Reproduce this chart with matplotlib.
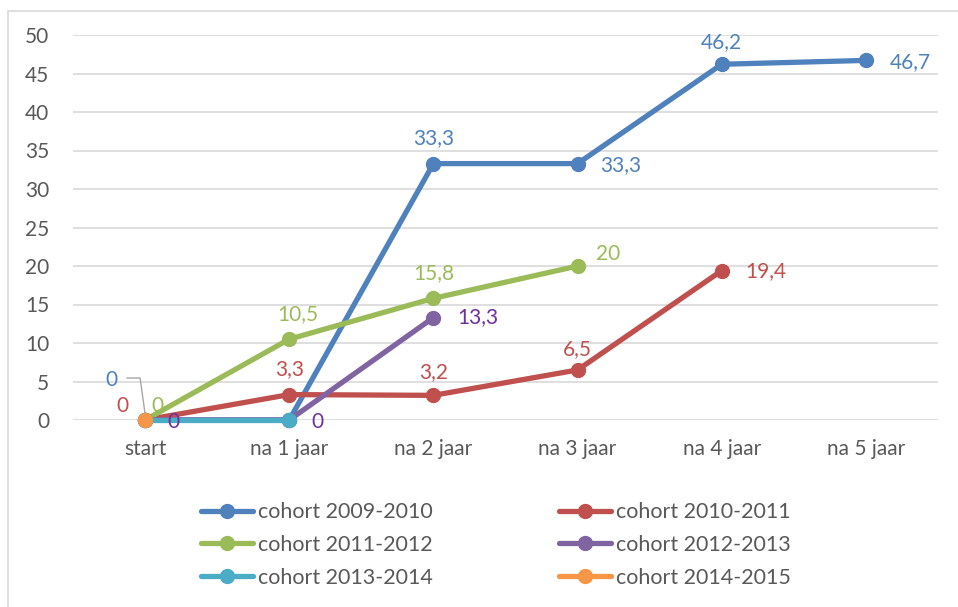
import matplotlib
matplotlib.use("Agg")
import matplotlib.pyplot as plt
import matplotlib.transforms as mtransforms
from matplotlib.patches import Rectangle

plt.rcParams['font.family'] = ['Lato', 'DejaVu Sans']

categories = ["start", "na 1 jaar", "na 2 jaar", "na 3 jaar", "na 4 jaar", "na 5 jaar"]
series_names = ["cohort 2009-2010", "cohort 2010-2011", "cohort 2011-2012",
                "cohort 2012-2013", "cohort 2013-2014", "cohort 2014-2015"]
c2009 = [0, 0, 33.3, 33.3, 46.2, 46.7]
c2010 = [0, 3.3, 3.2, 6.5, 19.4]
c2011 = [0, 10.5, 15.8, 20]
c2012 = [0, 0, 13.3]
c2013 = [0, 0]
c2014 = [0]
colors = ["#4F81BD", "#C0504D", "#9BBB59", "#8064A2", "#4BACC6", "#F79646"]
purple_label = "#7030A0"
yticks = [0, 5, 10, 15, 20, 25, 30, 35, 40, 45, 50]

FS = 15
W, H = 958, 607
fig = plt.figure(figsize=(W / 100, H / 100), dpi=100)
ax = fig.add_axes([73 / W, 1 - 420 / H, (938 - 73) / W, (420 - 35) / H])

all_series = [c2009, c2010, c2011, c2012, c2013, c2014]
handles = []
for name, vals, col in zip(series_names, all_series, colors):
    h, = ax.plot(range(len(vals)), vals, color=col, lw=3.8, marker='o', ms=10,
                 solid_capstyle='round', label=name, clip_on=False, zorder=3)
    handles.append(h)

ax.set_xlim(-0.5, len(categories) - 0.5)
ax.set_ylim(0, 50)
ax.set_xticks(range(len(categories)))
ax.set_xticklabels(categories)
ax.set_yticks(yticks)
ax.grid(axis='y', color='#D9D9D9', lw=1.2)
ax.set_axisbelow(True)
for s in ax.spines.values():
    s.set_visible(False)
ax.tick_params(axis='both', length=0, labelsize=FS, colors='#595959')
ax.tick_params(axis='y', pad=17)
ax.tick_params(axis='x', pad=14)

def lab(x, y, text, col, dx, dy, ha='center'):
    ax.annotate(text, xy=(x, y), xytext=(dx, dy), textcoords='offset points',
                ha=ha, va='center', fontsize=FS, color=col, zorder=5)

# cohort 2009-2010
lab(2, 33.3, "33,3", colors[0], 0, 18)
lab(3, 33.3, "33,3", colors[0], 16, -1, 'left')
lab(4, 46.2, "46,2", colors[0], 0, 16)
lab(5, 46.7, "46,7", colors[0], 17, -1, 'left')
lab(0, 0, "0", colors[0], -24, 29)
# cohort 2010-2011
lab(0, 0, "0", colors[1], -16.5, 10)
lab(1, 3.3, "3,3", colors[1], 0, 18)
lab(2, 3.2, "3,2", colors[1], 0, 17)
lab(3, 6.5, "6,5", colors[1], 0, 15)
lab(4, 19.4, "19,4", colors[1], 17, 0, 'left')
# cohort 2011-2012
lab(0, 0, "0", colors[2], 9, 10)
lab(1, 10.5, "10,5", colors[2], 6, 18)
lab(2, 15.8, "15,8", colors[2], 0, 18)
lab(3, 20, "20", colors[2], 13, 9, 'left')
# cohort 2012-2013
lab(0, 0, "0", purple_label, 16, -1.5, 'left')
lab(1, 0, "0", purple_label, 16, -1.5, 'left')
lab(2, 13.3, "13,3", purple_label, 17, 0, 'left')

# leader line for blue "0" at start
trans = fig.dpi_scale_trans + mtransforms.ScaledTranslation(0, 0, ax.transData)
ax.plot([-18 / 100, -5 / 100, 0], [42 / 100, 42 / 100, 6 / 100], color='#A6A6A6',
        lw=1, transform=trans, clip_on=False, zorder=2)

order = [0, 2, 4, 1, 3, 5]
leg = fig.legend([handles[i] for i in order], [series_names[i] for i in order],
                 ncol=2, loc='center', bbox_to_anchor=(496 / W, 1 - 545 / H),
                 frameon=False, fontsize=15.5, handlelength=2.4, handletextpad=0.25,
                 columnspacing=5.85, labelspacing=0.6)
for t in leg.get_texts():
    t.set_color('#595959')

fig.patches.append(Rectangle((8 / W, -0.05), 1.0, 1 - 11 / H + 0.05,
                             transform=fig.transFigure, fill=False,
                             edgecolor='#D9D9D9', lw=1.2, zorder=0))

fig.savefig("out.png", dpi=100)
